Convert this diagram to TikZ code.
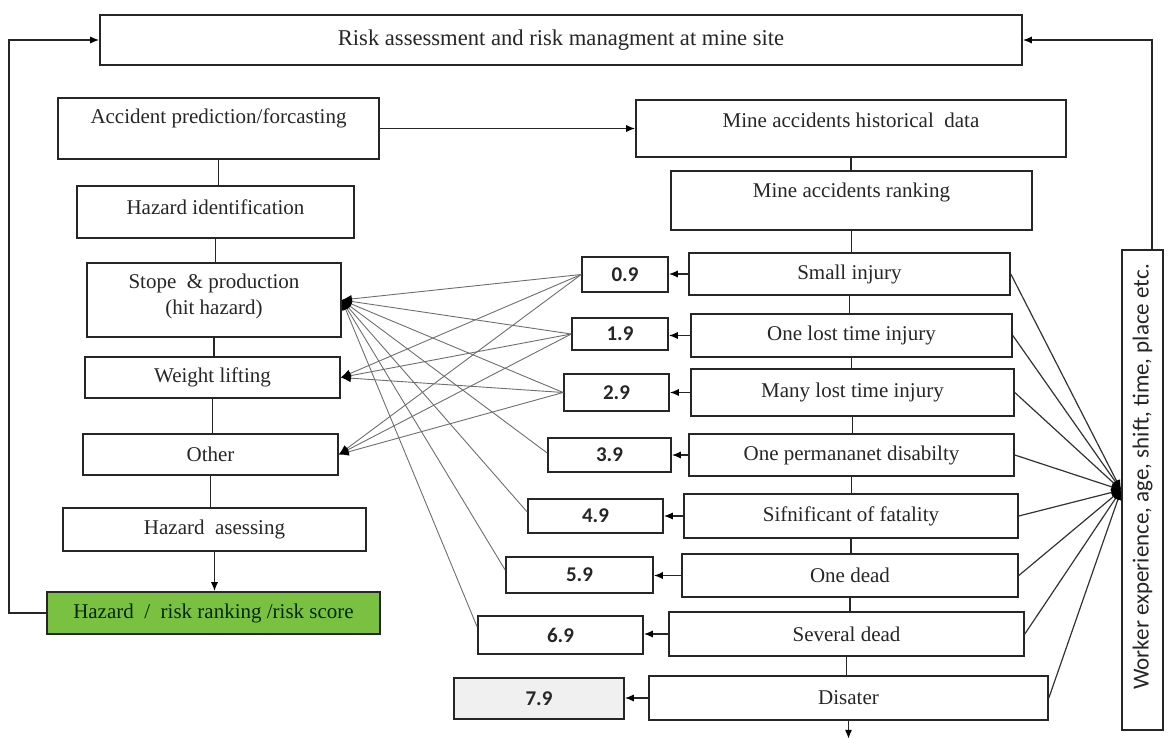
\documentclass[tikz,border=0pt]{standalone}
\usepackage{fontspec}
\setmainfont{Liberation Serif}
\newfontfamily\calfont{Carlito}
\usetikzlibrary{arrows.meta}
\definecolor{boxgreen}{RGB}{122,193,66}
\definecolor{boxgrey}{RGB}{240,240,240}
\definecolor{txt}{RGB}{38,38,38}
\definecolor{midline}{RGB}{110,110,110}
\tikzset{
  box/.style={draw=black!85, line width=0.8pt, fill=white, inner sep=0pt, text=txt, font=\fontsize{10.5pt}{12.5pt}\selectfont, align=center},
  numbox/.style={box, font=\calfont\bfseries\fontsize{10.5pt}{12pt}\selectfont},
  tip/.style={-{Latex[length=4.5pt,width=3.6pt,color=black]}},
  arr/.style={line width=0.75pt, draw=black!85, tip},
  plain/.style={line width=0.75pt, draw=black!85},
  midl/.style={line width=0.45pt, draw=midline, -{Latex[length=5pt,width=4pt,color=black]}},
  fanl/.style={line width=0.6pt, draw=black!80, -{Latex[length=5pt,width=4pt,color=black]}},
}
\begin{document}
\begin{tikzpicture}[x=0.5pt,y=-0.5pt]
\useasboundingbox (0,0) rectangle (1168,738);
% top
\node[box, minimum width=461pt, minimum height=25pt, font=\fontsize{11.3pt}{13pt}\selectfont] (top) at (561,40) {Risk assessment and risk managment at mine site};
% left column
\node[box, minimum width=160.5pt, minimum height=30.5pt] (acc) at (218.5,128.5) {};
\node[text=txt, font=\fontsize{10.5pt}{12.5pt}\selectfont] (acct) at ([yshift=5pt]acc.center) {Accident prediction/forcasting};
\node[box, minimum width=138.5pt, minimum height=26pt] (hid) at (215.5,212) {};
\node[text=txt, font=\fontsize{10.5pt}{12.5pt}\selectfont] (hidt) at ([yshift=2.5pt]hid.center) {Hazard identification};
\node[box, minimum width=127pt, minimum height=37pt] (stope) at (214,300) {};
\node[text=txt, align=center, font=\fontsize{10.5pt}{13pt}\selectfont] (stopet) at ([yshift=2pt]stope.center) {Stope \ \& production\\(hit hazard)};
\node[box, minimum width=127.5pt, minimum height=20.5pt] (wl) at (212.5,377.5) {Weight lifting};
\node[box, minimum width=127.5pt, minimum height=20.5pt] (oth) at (210.5,454.5) {Other};
\node[box, minimum width=151.5pt, minimum height=21.5pt] (has) at (214.5,529.5) {Hazard \ asessing};
\node[box, fill=boxgreen, text=black!85!green, minimum width=166.5pt, minimum height=21pt] (hr) at (213.5,613) {Hazard \ / \ risk ranking /risk score};
% right column
\node[box, minimum width=215pt, minimum height=28.5pt] (hist) at (851,128.5) {};
\node[text=txt, font=\fontsize{10.5pt}{12.5pt}\selectfont] (histt) at ([yshift=4pt]hist.center) {Mine accidents historical \ data};
\node[box, minimum width=180.5pt, minimum height=29.5pt] (mr) at (851.5,200.5) {};
\node[text=txt, font=\fontsize{10.5pt}{12.5pt}\selectfont] (mrt) at ([yshift=4pt]mr.center) {Mine accidents ranking};
\node[box, minimum width=160.5pt, minimum height=21pt] (si) at (849.5,274) {Small injury};
\node[box, minimum width=160.5pt, minimum height=21.5pt] (ol) at (851.5,335.5) {One lost time injury};
\node[box, minimum width=161.5pt, minimum height=23.5pt] (ml) at (852.5,392.5) {Many lost time injury};
\node[box, minimum width=162.5pt, minimum height=21pt] (op) at (851.5,455) {One permananet disabilty};
\node[box, minimum width=167pt, minimum height=22pt] (sf) at (851,516) {Sifnificant of fatality};
\node[box, minimum width=168pt, minimum height=21.5pt] (od) at (850,575.5) {One dead};
\node[box, minimum width=177.5pt, minimum height=22pt] (sd) at (846.5,634) {Several dead};
\node[box, minimum width=199.5pt, minimum height=22pt] (di) at (848.5,698) {Disater};
% number boxes
\node[numbox, minimum width=43pt, minimum height=17.5pt] (n09) at (625,274.5) {0.9};
\node[numbox, minimum width=48pt, minimum height=16pt] (n19) at (620,334) {1.9};
\node[numbox, minimum width=52.5pt, minimum height=18.5pt] (n29) at (616.5,392.5) {2.9};
\node[numbox, minimum width=61.5pt, minimum height=17pt] (n39) at (609.5,455) {3.9};
\node[numbox, minimum width=67.5pt, minimum height=17pt] (n49) at (595.5,516) {4.9};
\node[numbox, minimum width=73.5pt, minimum height=18pt] (n59) at (579.5,575) {5.9};
\node[numbox, minimum width=82.5pt, minimum height=19pt] (n69) at (560.5,635) {6.9};
\node[numbox, fill=boxgrey, minimum width=85pt, minimum height=20.5pt] (n79) at (539,698.5) {7.9};
% vertical box
\node[box, minimum width=20.5pt, minimum height=240pt] (vb) at (1142.5,490) {};
\node[rotate=90, text=txt, font=\calfont\fontsize{11.5pt}{13pt}\selectfont] (vbt) at ([yshift=6.5pt]vb.center) {Worker experience, age, shift, time, place etc.};
\coordinate (bend) at ([yshift=-9pt]di.south);
% left column connectors
\draw[plain] (acc.south) -- (acc.south |- hid.north);
\draw[plain] (hid.south) -- (hid.south |- stope.north);
\draw[plain] (stope.south) -- (stope.south |- wl.north);
\draw[plain] (wl.south) -- (wl.south |- oth.north);
\draw[plain] (oth.south) -- (oth.south |- has.north);
\draw[arr] (has.south) -- (has.south |- hr.north);
\draw[arr] (hr.west) -- ++(-37,0) |- (top.west);
\draw[arr] (acc.east) -- (hist.west);
% right column connectors
\draw[plain] (hist.south) -- (hist.south |- mr.north);
\draw[plain] (mr.south) -- (mr.south |- si.north);
\draw[plain] (si.south) -- (si.south |- ol.north);
\draw[plain] (ol.south) -- (ol.south |- ml.north);
\draw[plain] (ml.south) -- (ml.south |- op.north);
\draw[plain] (op.south) -- (op.south |- sf.north);
\draw[plain] (sf.south) -- (sf.south |- od.north);
\draw[plain] (od.south) -- (od.south |- sd.north);
\draw[plain] (sd.south) -- (sd.south |- di.north);
\draw[arr] (di.south) -- (bend);
% to number boxes
\draw[arr] (si.west) -- (si.west -| n09.east);
\draw[arr] (ol.west) -- (ol.west -| n19.east);
\draw[arr] (ml.west) -- (ml.west -| n29.east);
\draw[arr] (op.west) -- (op.west -| n39.east);
\draw[arr] (sf.west) -- (sf.west -| n49.east);
\draw[arr] (od.west) -- (od.west -| n59.east);
\draw[arr] (sd.west) -- (sd.west -| n69.east);
\draw[arr] (di.west) -- (di.west -| n79.east);
% fan to vertical box
\foreach \b in {si,ol,ml,op,sf,od,sd,di}{\draw[fanl] (\b.east) -- (vb.west);}
\draw[arr] ([xshift=4.75pt]vb.north) |- (top.east);
% middle crossing lines
\foreach \n in {n09,n19,n29}{
  \draw[midl] (\n.west) -- (stope.east);
  \draw[midl] (\n.west) -- (wl.east);
  \draw[midl] (\n.west) -- (oth.east);
}
\draw[midl] ([yshift=1pt]n39.west) -- (stope.east);
\draw[midl] ([yshift=2pt]n49.west) -- (stope.east);
\draw[midl] ([yshift=2.5pt]n59.west) -- (stope.east);
\draw[midl] ([yshift=4pt]n69.west) -- (stope.east);
\end{tikzpicture}
\end{document}
